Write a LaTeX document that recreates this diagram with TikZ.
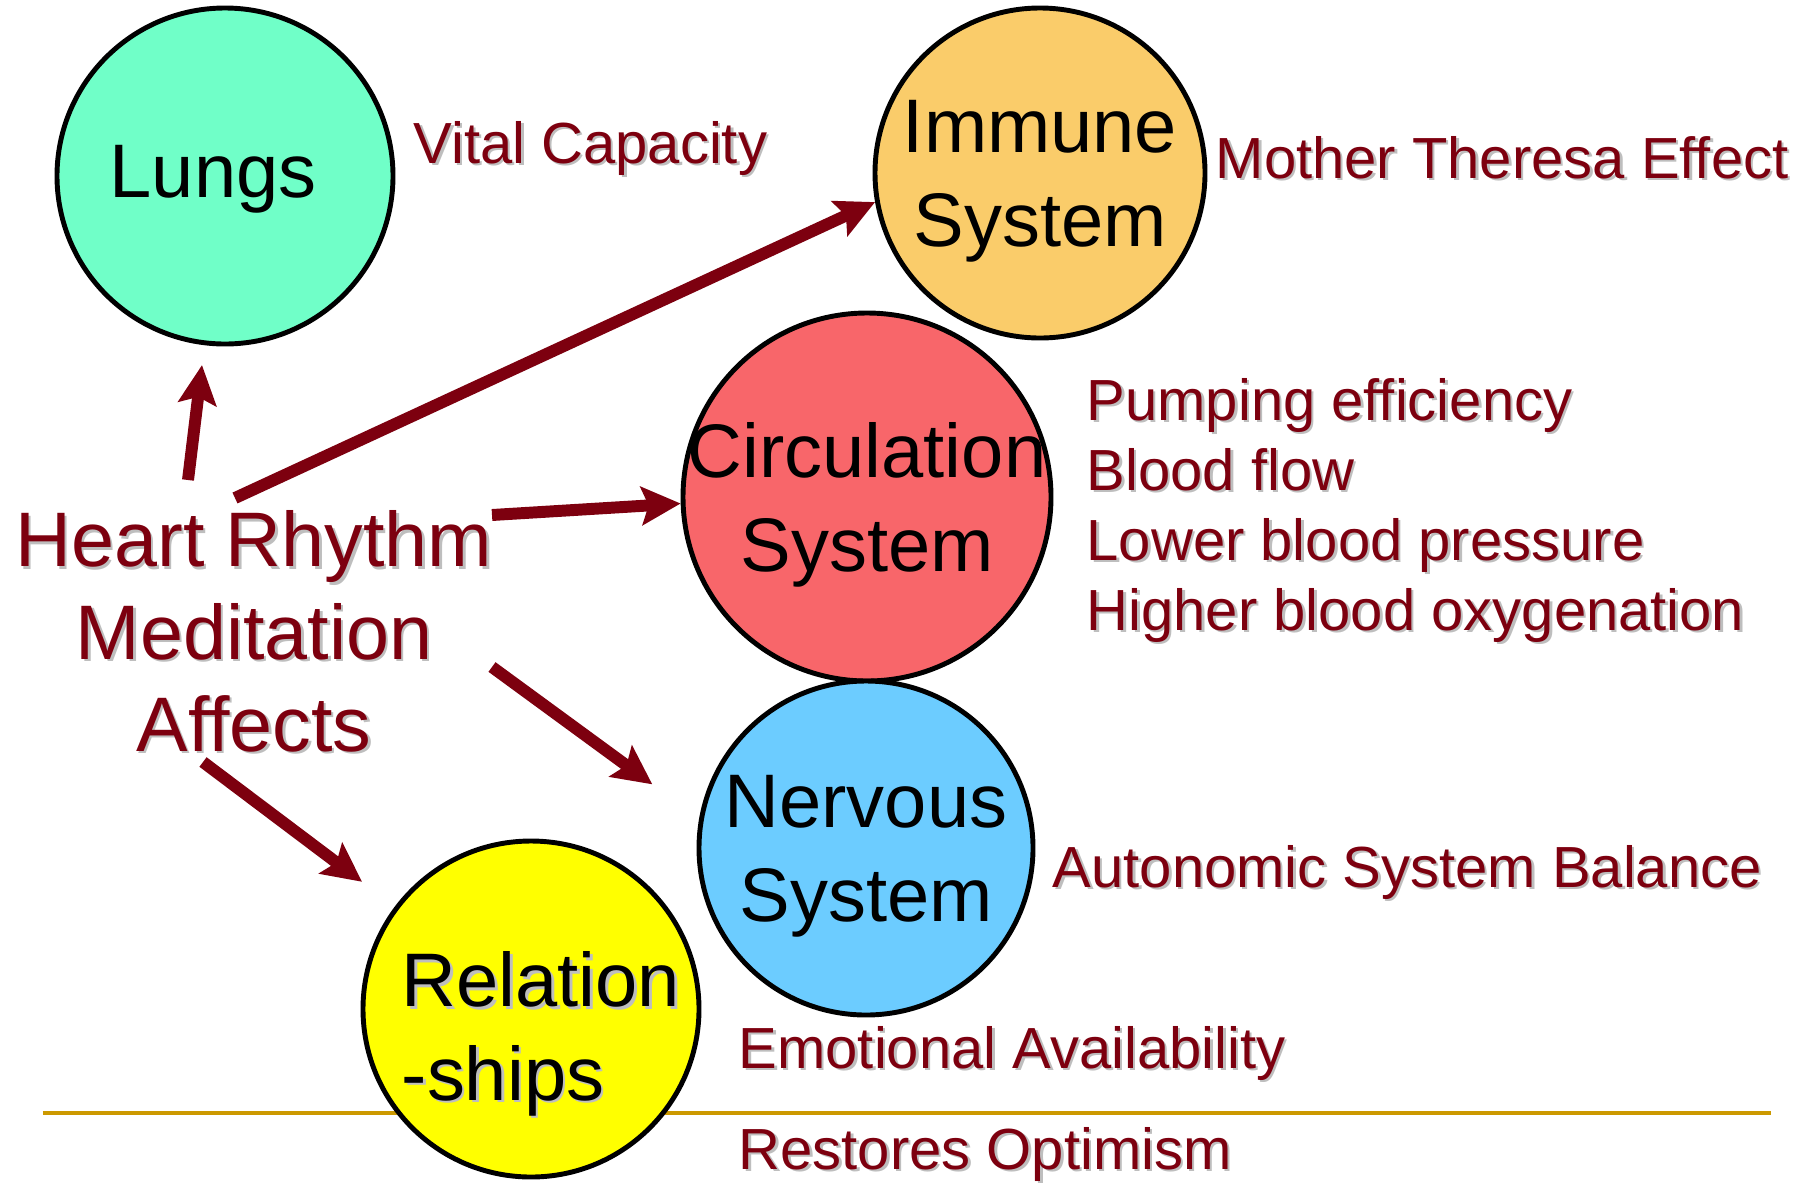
\documentclass[tikz,border=0pt]{standalone}
\usepackage{fontspec}
\setmainfont{Liberation Sans}
\usetikzlibrary{arrows.meta}
\definecolor{hrmred}{RGB}{125,0,15}
\definecolor{lungcol}{RGB}{112,255,200}
\definecolor{immcol}{RGB}{250,204,106}
\definecolor{circcol}{RGB}{248,102,106}
\definecolor{nervcol}{RGB}{108,204,255}
\definecolor{relcol}{RGB}{255,255,0}
\definecolor{rulecol}{RGB}{204,153,0}
\definecolor{shadowcol}{RGB}{190,190,190}
\newcommand{\shadowed}[1]{\rlap{\kern0.7pt\raisebox{-0.7pt}{\textcolor{shadowcol}{#1}}}#1}
\begin{document}
\begin{tikzpicture}[line join=round, >={Stealth[length=0.39cm, width=0.38cm, inset=0.07cm]}]
	\tikzset{organ/.style={circle, draw=black, line width=1.4pt, inner sep=0pt},
		organ text/.style={font=\fontsize{21.6}{26.7}\selectfont, align=center, text depth=0pt, inner sep=0pt},
		effect/.style={font=\fontsize{16.5}{19.9}\selectfont, text=hrmred, inner sep=0pt, anchor=base west},
		link/.style={->, draw=hrmred, line width=3.4pt}}
	\useasboundingbox (0,0) rectangle (18.13,11.82);
	\draw[rulecol, line width=1.2pt] (0.43,0.69)--(17.71,0.69);
	\node[organ, fill=lungcol, minimum size=3.36cm, label={[organ text, xshift=-0.12cm, yshift=0.05cm]center:Lungs}] (lungs) at (2.25,10.06) {};
	\node[organ, fill=immcol, minimum size=3.3cm, label={[organ text]center:{Immune\\System}}] (imm) at (10.40,10.09) {};
	\node[organ, fill=circcol, minimum size=3.68cm, label={[organ text]center:{Circulation\\System}}] (circ) at (8.67,6.85) {};
	\node[organ, fill=nervcol, minimum size=3.34cm, label={[organ text]center:{Nervous\\System}}] (nerv) at (8.66,3.34) {};
	\node[organ, fill=relcol, minimum size=3.36cm, label={[organ text, align=left, xshift=0.1cm, yshift=-0.17cm]center:{\shadowed{Relation}\\\shadowed{-ships}}}] (rel) at (5.31,1.73) {};
	\node[font=\fontsize{22}{26.2}\selectfont, text=hrmred, align=center, text depth=0pt, inner sep=0pt] (heart) at (2.54,5.51) {\shadowed{Heart Rhythm}\\\shadowed{Meditation}\\\shadowed{Affects}};
	\node[effect] (vital) at (4.13,10.19) {\shadowed{Vital Capacity}};
	\node[effect] (mother) at (12.15,10.04) {\shadowed{Mother Theresa Effect}};
	\foreach \t [count=\i] in {Pumping efficiency, Blood flow, Lower blood pressure, Higher blood oxygenation}
		\node[effect] (pump\i) at (10.86,8.32-0.7*\i) {\shadowed{\t}};
	\node[effect] (auto) at (10.52,2.95) {\shadowed{Autonomic System Balance}};
	\node[effect] (emot) at (7.38,1.14) {\shadowed{Emotional Availability}};
	\node[effect] (restore) at (7.38,0.13) {\shadowed{Restores Optimism}};
	\coordinate (lt) at (1.88,7.02);
	\coordinate (it) at (2.35,6.84);
	\coordinate (ct) at (4.92,6.67);
	\coordinate (nt) at (4.92,5.15);
	\coordinate (rt) at (2.03,4.20);
	\draw[link, shorten >=0.2cm] (lt)--(lungs);
	\draw[link] (it)--(imm.190);
	\draw[link] (ct)--(circ.182);
	\draw[link, shorten >=0.58cm] (nt)--(nerv.170);
	\draw[link, shorten >=0.41cm] (rt)--(rel);
\end{tikzpicture}
\end{document}
